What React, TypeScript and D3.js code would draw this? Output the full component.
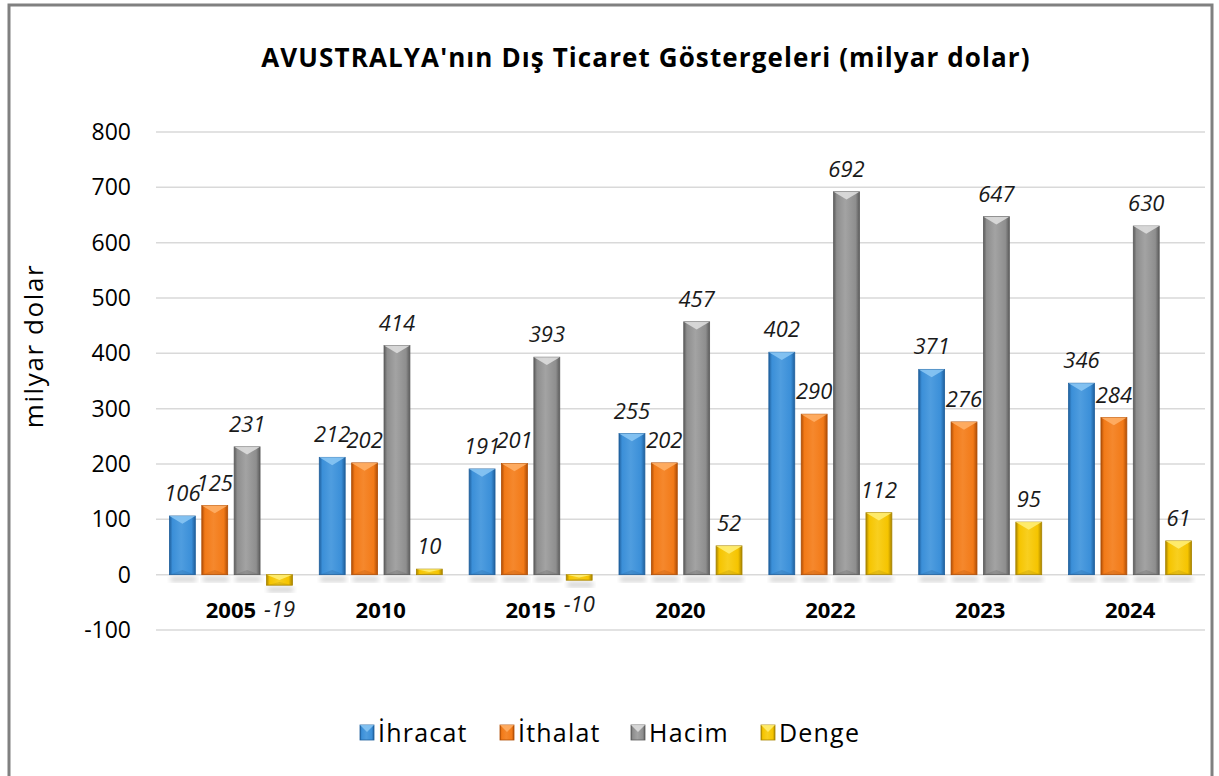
import React, { useEffect, useRef } from 'react';
import * as d3 from 'd3';

const years = ['2005', '2010', '2015', '2020', '2022', '2023', '2024'];
const series = ['İhracat', 'İthalat', 'Hacim', 'Denge'];
const ihracat = [106, 212, 191, 255, 402, 371, 346];
const ithalat = [125, 202, 201, 202, 290, 276, 284];
const hacim = [231, 414, 393, 457, 692, 647, 630];
const denge = [-19, 10, -10, 52, 112, 95, 61];
const yTicks = [-100, 0, 100, 200, 300, 400, 500, 600, 700, 800];

const COLORS = [
  { base: '#3b8fd8', light: '#8cc8f5', dark: '#1f5f9c' },
  { base: '#f27a18', light: '#ffb26a', dark: '#b04e06' },
  { base: '#8e8e8e', light: '#e0e0e0', dark: '#5c5c5c' },
  { base: '#f5c400', light: '#fff07a', dark: '#a88400' },
];
const FONT = "'Open Sans', 'Noto Sans', sans-serif";

export default function App() {
  const ref = useRef<SVGSVGElement>(null);
  useEffect(() => {
    const W = 1219, H = 776;
    const svg = d3.select(ref.current);
    svg.selectAll('*').remove();
    const values = [ihracat, ithalat, hacim, denge];
    const defs = svg.append('defs');
    COLORS.forEach((c, i) => {
      const g = defs.append('linearGradient').attr('id', `g${i}`).attr('x1', 0).attr('x2', 1).attr('y1', 0).attr('y2', 0);
      g.append('stop').attr('offset', '0%').attr('stop-color', c.dark);
      g.append('stop').attr('offset', '12%').attr('stop-color', c.base);
      g.append('stop').attr('offset', '45%').attr('stop-color', d3.interpolateRgb(c.base, c.light)(0.25));
      g.append('stop').attr('offset', '85%').attr('stop-color', c.base);
      g.append('stop').attr('offset', '100%').attr('stop-color', c.dark);
    });
    defs.append('filter').attr('id', 'blur').append('feGaussianBlur').attr('stdDeviation', 2.5);

    svg.append('rect').attr('x', 0).attr('y', 0).attr('width', W).attr('height', H).attr('fill', '#fff');
    svg.append('rect').attr('x', 9).attr('y', 5).attr('width', 1203).attr('height', 800)
      .attr('fill', 'none').attr('stroke', '#808080').attr('stroke-width', 3);

    const y = d3.scaleLinear().domain([-100, 800]).range([630, 132]);
    const x0 = d3.scaleBand().domain(years).range([156, 1205]).padding(0);
    const x1 = d3.scaleBand().domain(series).range([-61.5, 61.5]).paddingInner(0.2);

    // gridlines
    svg.append('g').selectAll('line').data(yTicks).join('line')
      .attr('x1', 156).attr('x2', 1205).attr('y1', d => y(d)).attr('y2', d => y(d))
      .attr('stroke', '#d9d9d9').attr('stroke-width', 1.5);
    svg.append('g').selectAll('text').data(yTicks).join('text')
      .attr('x', 131).attr('y', d => y(d) + 8).attr('text-anchor', 'end')
      .attr('font-family', FONT).attr('font-size', 23).attr('fill', '#000').text(d => d);

    svg.append('text').attr('transform', `translate(43,346) rotate(-90)`).attr('text-anchor', 'middle')
      .attr('font-family', FONT).attr('font-size', 26).attr('letter-spacing', 1.6).text('milyar dolar');

    svg.append('text').attr('x', 646).attr('y', 67).attr('text-anchor', 'middle')
      .attr('font-family', FONT).attr('font-weight', 'bold').attr('font-size', 26).attr('letter-spacing', 1.1)
      .text("AVUSTRALYA'nın Dış Ticaret Göstergeleri (milyar dolar)");

    const bars = svg.append('g');
    years.forEach((yr, i) => {
      series.forEach((s, k) => {
        const v = values[k][i];
        const bx = x0(yr)! + x0.bandwidth() / 2 + x1(s)!;
        const bw = x1.bandwidth();
        const top = Math.min(y(v), y(0));
        const bh = Math.abs(y(v) - y(0));
        const c = COLORS[k];
        // shadow
        bars.append('rect').attr('x', bx + 1).attr('y', Math.max(y(v), y(0)) + 2).attr('width', bw).attr('height', 5)
          .attr('fill', '#000').attr('opacity', 0.18).attr('filter', 'url(#blur)');
        bars.append('rect').attr('x', bx).attr('y', top).attr('width', bw).attr('height', bh)
          .attr('fill', `url(#g${k})`).attr('stroke', c.dark).attr('stroke-width', 0.8);
        const cap = Math.min(bw * 0.3, bh / 2);
        bars.append('path')
          .attr('d', `M${bx},${top}L${bx + bw},${top}L${bx + bw / 2},${top + cap}Z`)
          .attr('fill', c.light).attr('opacity', 0.85);
        bars.append('path')
          .attr('d', `M${bx},${top + bh}L${bx + bw},${top + bh}L${bx + bw / 2},${top + bh - cap * 0.6}Z`)
          .attr('fill', c.dark).attr('opacity', 0.25);
        const lx = bx + bw / 2;
        const ly = v >= 0 ? y(v) - 15 : y(v) + 32;
        bars.append('text').attr('x', lx).attr('y', ly).attr('text-anchor', 'middle')
          .attr('font-family', FONT).attr('font-style', 'italic').attr('font-size', 22).attr('fill', '#1a1a1a')
          .text(v);
      });
      svg.append('text').attr('x', x0(yr)! + x0.bandwidth() / 2).attr('y', 618).attr('text-anchor', 'middle')
        .attr('font-family', FONT).attr('font-weight', 'bold').attr('font-size', 22).text(yr);
    });

    // legend
    const legendX = [360, 500, 631, 761];
    const leg = svg.append('g');
    series.forEach((s, k) => {
      const c = COLORS[k];
      const lx = legendX[k];
      leg.append('rect').attr('x', lx).attr('y', 725).attr('width', 14).attr('height', 15)
        .attr('fill', `url(#g${k})`).attr('stroke', c.dark).attr('stroke-width', 0.8);
      leg.append('path').attr('d', `M${lx},725L${lx + 14},725L${lx + 7},732Z`).attr('fill', c.light).attr('opacity', 0.85);
      leg.append('text').attr('x', lx + 18).attr('y', 742).attr('font-family', FONT).attr('font-size', 25)
        .attr('letter-spacing', 1.2).text(s);
    });
  }, []);
  return (
    <svg ref={ref} width={1219} height={776} style={{ position: 'absolute', left: 0, top: 0 }} />
  );
}
